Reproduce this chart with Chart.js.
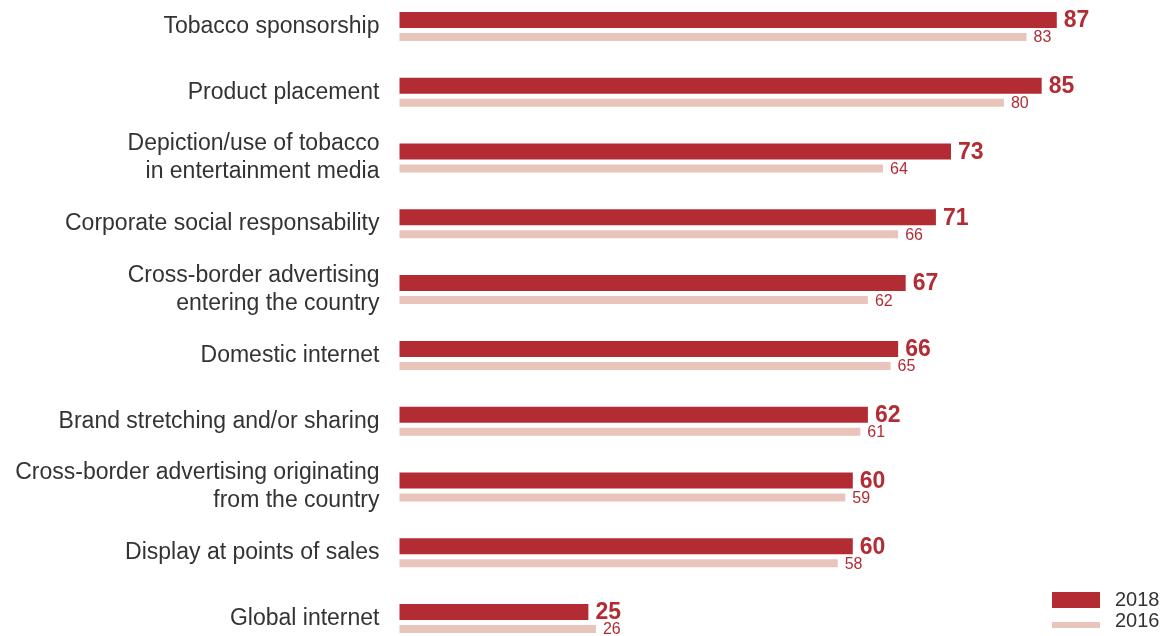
<!DOCTYPE html>
<html>
<head>
<meta charset="utf-8">
<script src="https://cdn.jsdelivr.net/npm/chart.js@4.4.1/dist/chart.umd.min.js"></script>
<style>
	html, body { margin: 0; padding: 0; background: #ffffff; }
	#wrap { position: relative; width: 1170px; height: 636px; }
	#legend { position: absolute; left: 1052px; top: 586px; font-family: "Liberation Sans", Arial, sans-serif; font-size: 20px; color: #333333; }
	.item { position: relative; height: 30px; }
	.swatch { position: absolute; left: 0; width: 48px; }
	.item span { position: absolute; left: 63px; }
</style>
</head>
<body>
<div id="wrap">
	<canvas id="media_chart" width="1170" height="636"></canvas>
	<div id="legend">
		<div class="item"><div class="swatch" style="top:6px;height:16px;background:#b32c34"></div><span style="top:2px">2018</span></div>
		<div class="item"><div class="swatch" style="top:6px;height:6px;background:#e8c4ba"></div><span style="top:-7px">2016</span></div>
	</div>
</div>
<script>
//
// Catégories et valeurs (pourcentages).
//
const categories = [
	"Tobacco sponsorship",
	"Product placement",
	[ "Depiction/use of tobacco", "in entertainment media" ],
	"Corporate social responsability",
	[ "Cross-border advertising", "entering the country" ],
	"Domestic internet",
	"Brand stretching and/or sharing",
	[ "Cross-border advertising originating", "from the country" ],
	"Display at points of sales",
	"Global internet"
];
const values_2018 = [ 87, 85, 73, 71, 67, 66, 62, 60, 60, 25 ];
const values_2016 = [ 83, 80, 64, 66, 62, 65, 61, 59, 58, 26 ];

const dark_red = "#b32c34";
const light_pink = "#e8c4ba";

//
// Petit plugin pour écrire la valeur au bout de chaque barre.
//
const value_labels = {
	id: "value_labels",
	afterDatasetsDraw( chart ) {
		const ctx = chart.ctx;
		chart.data.datasets.forEach( ( dataset, i ) => {
			const meta = chart.getDatasetMeta( i );
			ctx.save();
			ctx.fillStyle = dark_red;
			ctx.textAlign = "left";
			ctx.textBaseline = "middle";
			ctx.font = i === 0 ? "bold 23px 'Liberation Sans', Arial, sans-serif" : "16px 'Liberation Sans', Arial, sans-serif";
			meta.data.forEach( ( bar, j ) => {
				ctx.fillText( dataset.data[ j ], bar.x + 7, bar.y + 1 );
			} );
			ctx.restore();
		} );
	}
};

new Chart( document.getElementById( "media_chart" ),
	{
		type: "bar",
		data: {
			labels: categories,
			datasets: [
				{
					label: "2018",
					data: values_2018,
					backgroundColor: dark_red,
					barPercentage: 16 / 17
				},
				{
					label: "2016",
					data: values_2016,
					backgroundColor: light_pink,
					barPercentage: 8 / 17
				}
			]
		},
		plugins: [ value_labels ],
		options: {
			indexAxis: "y",
			responsive: false,
			animation: false,
			events: [],
			layout: {
				padding: { top: 28.5, bottom: 15.5, left: 0, right: 15 }
			},
			datasets: {
				bar: {
					clip: false,
					categoryPercentage: 34 / 65.78
				}
			},
			plugins: {
				legend: { display: false },
				tooltip: { enabled: false }
			},
			scales: {
				x: {
					display: false,
					min: 0,
					max: 100
				},
				y: {
					offset: false,
					grid: { display: false, drawTicks: false },
					border: { display: false },
					afterFit( scale ) {
						scale.width = 399.5;
						scale.paddingTop = 0;
						scale.paddingBottom = 0;
					},
					ticks: {
						padding: 20,
						labelOffset: -2,
						color: "#333333",
						font: {
							size: 23,
							family: "'Liberation Sans', Arial, sans-serif",
							lineHeight: 1.22
						}
					}
				}
			}
		}
	} );
</script>
</body>
</html>
